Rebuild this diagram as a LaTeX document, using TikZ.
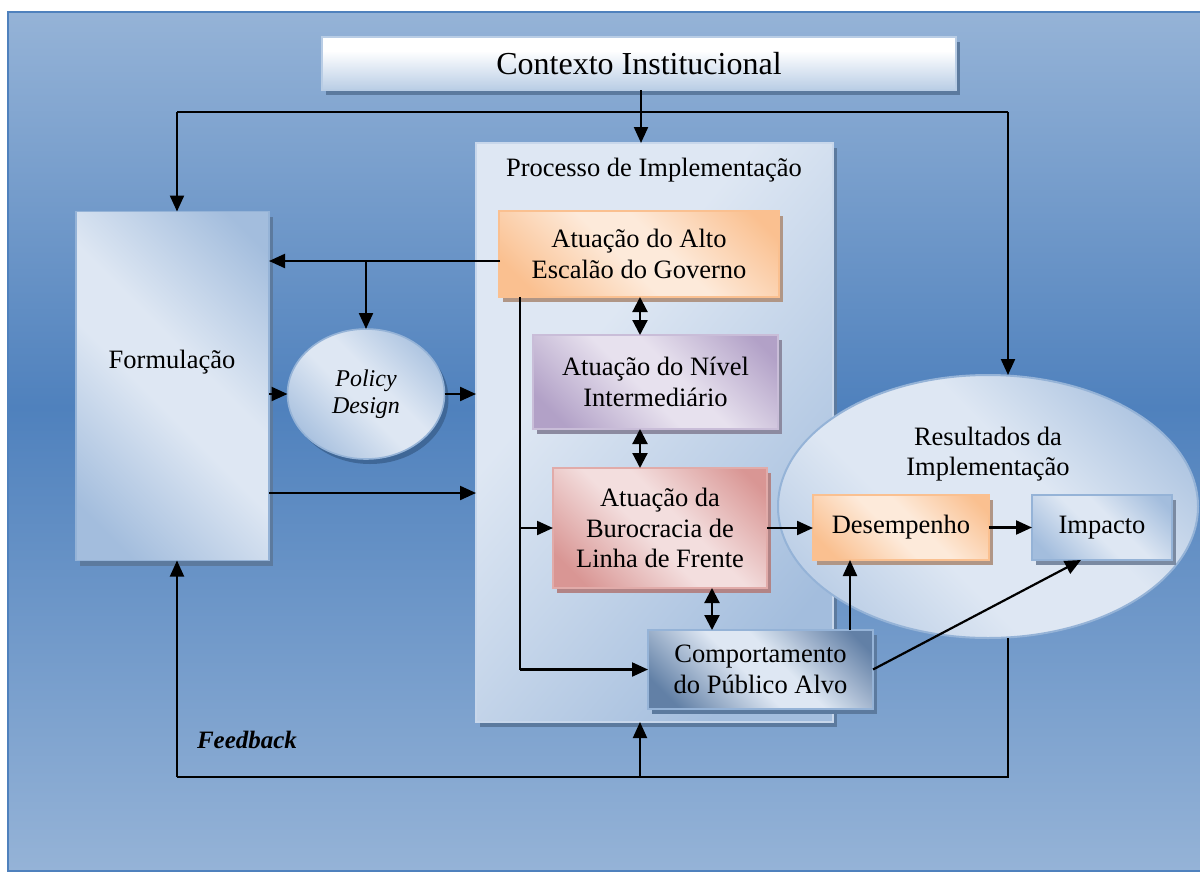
\documentclass[tikz,border=0pt]{standalone}
\usepackage{fontspec}
\setmainfont{Liberation Serif}
\usetikzlibrary{arrows.meta,shapes.geometric,shadows}

% palette
\definecolor{bgL}{RGB}{149,179,215}
\definecolor{bgD}{RGB}{79,129,189}
\definecolor{blL}{RGB}{222,231,243}
\definecolor{blD}{RGB}{163,189,221}
\definecolor{blM}{RGB}{190,208,231}
\definecolor{blB}{RGB}{149,179,215}
\definecolor{orL}{RGB}{253,234,218}
\definecolor{orD}{RGB}{250,192,144}
\definecolor{puL}{RGB}{231,225,238}
\definecolor{puD}{RGB}{178,161,199}
\definecolor{reL}{RGB}{243,222,222}
\definecolor{reD}{RGB}{217,150,148}
\definecolor{cmL}{RGB}{222,231,243}
\definecolor{cmD}{RGB}{98,128,166}
\definecolor{tiT}{RGB}{255,255,255}
\definecolor{tiB}{RGB}{185,205,229}
\definecolor{shBlue}{RGB}{92,122,158}
\definecolor{shOr}{RGB}{176,150,134}
\definecolor{shPu}{RGB}{140,138,160}
\definecolor{shRe}{RGB}{178,132,134}
\definecolor{shGr}{RGB}{122,138,162}

% shadings
\pgfdeclareverticalshading{bgsh}{100bp}{color(0bp)=(bgL); color(25bp)=(bgL); color(52bp)=(bgD); color(75bp)=(bgL); color(100bp)=(bgL)}
\pgfdeclareverticalshading{tish}{100bp}{color(0bp)=(tiB); color(25bp)=(tiB); color(62bp)=(tiT); color(100bp)=(tiT)}
\newcommand{\dgband}[3]{\pgfdeclarehorizontalshading{#1}{100bp}{color(0bp)=(#2); color(22bp)=(#2); color(46bp)=(#3); color(56bp)=(#3); color(80bp)=(#2); color(100bp)=(#2)}}
\dgband{bandBl}{blD}{blL}
\dgband{bandOr}{orD}{orL}
\dgband{bandPu}{puD}{puL}
\dgband{bandRe}{reD}{reL}
\dgband{bandCm}{cmD}{cmL}
\pgfdeclarehorizontalshading{procsh}{100bp}{color(0bp)=(blL); color(38bp)=(blL); color(75bp)=(blD); color(100bp)=(blD)}
\pgfdeclarehorizontalshading{ressh}{100bp}{color(0bp)=(blM); color(25bp)=(blM); color(40bp)=(blL); color(58bp)=(blL); color(80bp)=(blD); color(100bp)=(blD)}

\newcommand{\dgbody}{\fontsize{26.5}{30.5}\selectfont}

\begin{document}
\begin{tikzpicture}[x=1pt,y=-1pt,
  box/.style={rectangle, inner sep=0pt, outer sep=0pt, line width=1.6pt, align=center, font=\dgbody},
  shad/.style={general shadow={fill=#1, shadow xshift=4pt, shadow yshift=-5pt}},
  arr/.style={-{Triangle[length=16pt,width=14pt]}, line width=2.2pt},
  dbl/.style={{Triangle[length=15pt,width=15pt]}-{Triangle[length=15pt,width=15pt]}, line width=2.2pt},
  ln/.style={line width=2.2pt},
  fbln/.style={line width=1.9pt},
  fbarr/.style={arr, line width=1.9pt}]
\useasboundingbox (0,0) rectangle (1200,873);

% background panel
\path[shading=bgsh, draw=bgD, line width=2pt] (8,12) rectangle (1212,871);

% institutional context
\node[box, shad=shBlue, shading=tish, draw=tiB, minimum width=634, minimum height=53,
      font=\fontsize{32}{36}\selectfont] (ctx) at (639,63.5) {Contexto Institucional};

% formulation
\node[box, shad=shBlue, shading=bandBl, shading angle=45, draw=blB,
      minimum width=193, minimum height=349] (form) at (172.5,386) {};
\node[font=\dgbody, inner sep=0pt] (formtxt) at (172,362) {Formulação};

% implementation process frame
\node[box, shad=shBlue, shading=procsh, shading angle=-40, draw=blL!70!blB,
      minimum width=357, minimum height=579] (proc) at (654.5,432.5) {};
\node[font=\dgbody, inner sep=0pt] (proctxt) at (654,170) {Processo de Implementação};

% results
\node[ellipse, inner sep=0pt, outer sep=0pt, shading=ressh, shading angle=45, draw=blB, line width=2pt,
      minimum width=420, minimum height=263] (res) at (988,506.5) {};
\node[font=\dgbody, align=center, inner sep=0pt] (restxt) at (988,454) {Resultados da\\Implementação};

% policy design
\node[ellipse, inner sep=0pt, outer sep=0pt, shad=bgD!80!black, shading=bandBl, shading angle=45,
      draw=blB, line width=1.6pt, minimum width=157, minimum height=130,
      align=center, font=\fontsize{24}{27}\selectfont\itshape] (pd) at (366,394) {Policy\\Design};

% actors
\node[box, shad=shOr, shading=bandOr, shading angle=45, draw=orD,
      minimum width=280, minimum height=86] (alto) at (639,254) {Atuação do Alto\\Escalão do Governo};
\node[box, shad=shPu, shading=bandPu, shading angle=45, draw=puD!70!white,
      minimum width=245, minimum height=94] (niv) at (655.5,382) {Atuação do Nível\\Intermediário};
\node[box, shad=shRe, shading=bandRe, shading angle=45, draw=reD!80!white,
      minimum width=214, minimum height=120] (bur) at (660,528) {Atuação da\\Burocracia de\\Linha de Frente};
\node[box, shad=shBlue, shading=bandCm, shading angle=45, draw=blB,
      minimum width=225, minimum height=79] (comp) at (760.5,669.5) {Comportamento\\do Público Alvo};
\node[box, shad=shOr, shading=bandOr, shading angle=45, draw=orD,
      minimum width=176, minimum height=65] (des) at (901,527.5) {Desempenho};
\node[box, shad=shGr, shading=bandBl, shading angle=45, draw=blB,
      minimum width=140, minimum height=65] (imp) at (1102,527.5) {Impacto};

% feedback label
\node[font=\fontsize{25}{30}\selectfont\bfseries\itshape, inner sep=0pt] (fbtxt) at (247,740) {Feedback};

% context distribution
\coordinate (tl) at (177,112);
\coordinate (tm) at (641,112);
\coordinate (tr) at (1008,112);
\draw[arr] (tm |- ctx.south) -- (tm |- proc.north);
\draw[ln] (tl) -- (tr);
\draw[arr] (tl) -- (tl |- form.north);
\draw[arr] (tr) -- (tr |- res.north);

% high-level government to formulation and policy design
\coordinate (a1) at (500,261);
\coordinate (br) at (366,261);
\draw[arr] (a1) -- (a1 -| form.east);
\draw[arr] (br) -- (pd.north);
\draw[arr] (form.east |- pd.west) -- (pd.west);
\draw[arr] (pd.east) -- (pd.east -| proc.west);
\coordinate (f2) at (269,493);
\draw[arr] (f2) -- (f2 -| proc.west);

% interactions between levels
\coordinate (d1) at (640,0);
\coordinate (d2) at (712,0);
\draw[dbl] (d1 |- alto.south) -- (d1 |- niv.north);
\draw[dbl] (d1 |- niv.south) -- (d1 |- bur.north);
\draw[dbl] (d2 |- bur.south) -- (d2 |- comp.north);

% direct line from the top level
\coordinate (v) at (520,0);
\draw[ln] (v |- alto.south) -- (v |- comp.west);
\draw[arr] (v |- comp.west) -- (comp.west);
\draw[arr] (v |- bur.west) -- (bur.west);

% results
\draw[arr] (bur.east) -- (bur.east -| des.west);
\draw[arr] (des.east) -- (imp.west);
\coordinate (u) at (850,0);
\draw[arr] (u |- comp.north) -- (u |- des.south);
\draw[arr] (comp.east) -- ([xshift=-21pt]imp.south);

% feedback loop
\coordinate (fbR) at (1008,777);
\coordinate (fbL) at (177,777);
\coordinate (fbM) at (640,777);
\draw[fbln] (fbR |- res.south) -- (fbR) -- (fbL);
\draw[fbarr] (fbL) -- (fbL |- form.south);
\draw[fbarr] (fbM) -- (fbM |- proc.south);
\end{tikzpicture}
\end{document}
